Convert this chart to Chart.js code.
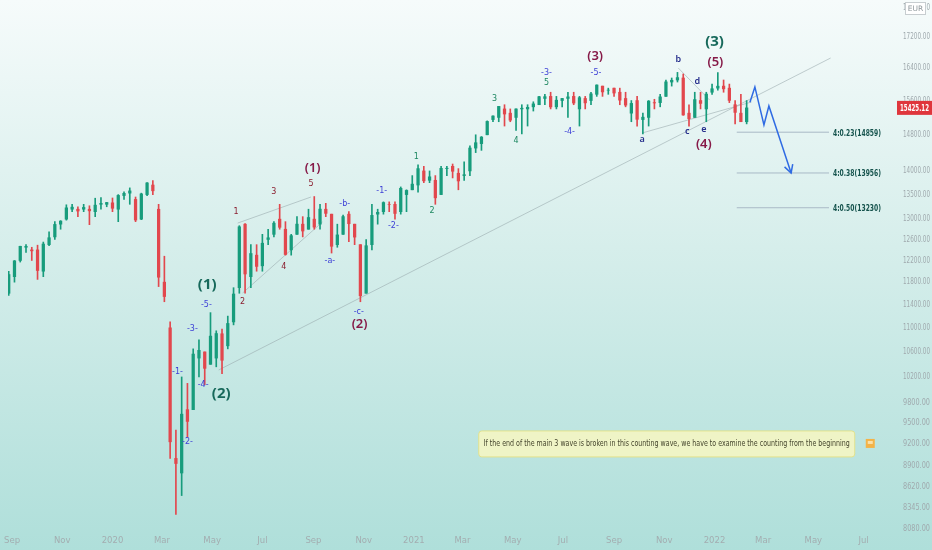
<!DOCTYPE html>
<html>
<head>
<meta charset="utf-8">
<script src="https://cdn.jsdelivr.net/npm/chart.js@4.4.1/dist/chart.umd.min.js"></script>
<style>
  html, body { margin: 0; padding: 0; background: #fff; }
  #wrap { width: 932px; height: 550px; }
</style>
</head>
<body>
<div id="wrap"><canvas id="chart" width="932" height="550"></canvas></div>
<script>
// weekly candles, x = days after 1 Sep 2019 (first candle mid-week 28 Aug 2019)
const firstDay = -4;
const opens = [
  11600,11900,12200,12450,12400,12400,12000,12500,12650,12900,
  13000,13200,13200,13200,13200,13150,13300,13300,13330,13200,
  13480,13530,13400,13000,13500,13700,13200,11800,11000,9000,
  8800,9700,9700,10500,10600,10400,10500,10900,10700,11100,
  11700,12900,11900,12300,12100,12600,12700,13000,12800,12400,
  12700,12900,12800,13000,12900,13200,13100,12500,12700,13100,
  12900,12500,11600,12500,13100,13150,13300,13300,13150,13500,
  13600,13700,14000,13800,13800,13500,14050,14100,13950,13900,
  14000,14500,14600,14800,15150,15200,15400,15300,15200,15400,
  15400,15450,15500,15650,15700,15450,15600,15650,15700,15400,
  15650,15600,15750,15950,15850,15900,15800,15650,15300,15600,
  15150,15200,15550,15550,15700,16050,16100,16150,15300,15200,
  15600,15400,15800,15900,15950,15900,15500,15300,15100
];
const highs = [
  12000,12200,12470,12500,12450,12490,12550,12750,12950,12970,
  13290,13300,13250,13300,13270,13425,13440,13340,13430,13500,
  13560,13640,13450,13530,13750,13795,13300,12280,11100,9400,
  10200,10100,10650,10800,10600,11260,10950,10980,11200,11700,
  12870,12913,12500,12500,12700,12800,12950,13300,12950,12700,
  13050,13050,13200,13460,13300,13320,13100,12900,13080,13150,
  12900,12500,12600,13300,13200,13350,13350,13350,13660,13600,
  13900,14130,14100,14000,13900,14100,14100,14150,14050,14200,
  14550,14800,14760,15120,15240,15460,15500,15400,15400,15500,
  15500,15570,15700,15750,15800,15700,15650,15800,15800,15700,
  15700,15800,15980,15950,15900,15900,15900,15800,15600,15700,
  15300,15600,15630,15750,16100,16150,16290,16250,15500,15800,
  15800,15800,16000,16285,16100,16000,15600,15750,15600
];
const lows = [
  11560,11800,12170,12350,12200,11850,11900,12480,12600,12800,
  12980,13150,13050,13150,12890,13050,13200,13250,13150,12950,
  13400,13300,12950,12990,13480,13500,11720,11450,9000,8256,
  8500,9300,9700,10200,10080,10400,10360,10250,10650,11050,
  11600,11600,11700,12000,12000,12500,12650,12800,12300,12300,
  12700,12650,12800,12800,12800,13050,12340,12450,12700,12560,
  12500,11450,11600,12400,12900,13100,13150,13000,13100,13150,
  13600,13550,13750,13750,13300,13500,13900,13850,13600,13800,
  13900,14400,14450,14800,15100,15100,15000,15100,14900,14820,
  15000,15350,15500,15500,15400,15400,15450,15200,15500,15000,
  15400,15500,15700,15700,15750,15700,15500,15450,15100,15000,
  14820,15000,15400,15450,15700,15950,16050,15250,15000,15200,
  15400,15100,15750,15850,15800,15550,15050,15100,15050
];
const closes = [
  11939,12192,12469,12468,12381,12013,12512,12634,12895,12961,
  13228,13242,13163,13236,13167,13283,13319,13337,13219,13483,
  13526,13577,12982,13514,13745,13579,11890,11542,9232,8929,
  9633,9526,10565,10626,10336,10861,10904,10465,11074,11587,
  12848,11949,12331,12089,12528,12633,12920,12838,12313,12674,
  12901,12765,13033,12842,13202,13116,12469,12689,13051,12909,
  12646,11556,12480,13076,13137,13336,13299,13114,13631,13587,
  13719,14050,13788,13874,13433,14056,14050,13993,13786,13920,
  14502,14621,14748,15107,15234,15460,15280,15136,15400,15417,
  15437,15520,15693,15693,15448,15608,15650,15688,15540,15669,
  15544,15761,15977,15808,15852,15781,15609,15490,15532,15156,
  15206,15587,15543,15688,16054,16094,16160,15257,15170,15623,
  15531,15756,15885,15948,15883,15603,15318,15100,15425
];
const lastPrice = 15425.12;

const xTickDays = [0,61,122,182,243,304,366,427,488,547,608,669,731,792,853,912,973,1034];
const xTickLabels = ['Sep','Nov','2020','Mar','May','Jul','Sep','Nov','2021','Mar','May','Jul','Sep','Nov','2022','Mar','May','Jul'];
const yTicks = [18000,17200,16400,15600,14800,14000,13500,13000,12600,12200,11800,11400,11000,10600,10200,9800,9500,9200,8900,8620,8345,8080];

// wave labels: [day, price, text, group]
const waveLabels = [
  [237,11748,'(1)','major'], [254,9937,'(2)','major'], [853,17068,'(3)','major'],
  [365,14063,'(1)','inter'], [422,11065,'(2)','inter'], [708,16705,'(3)','inter'],
  [854,16552,'(5)','inter'], [840,14592,'(4)','inter'],
  [201,10278,'-1-','minute'], [213,9230,'-2-','minute'], [219,10980,'-3-','minute'],
  [232,10075,'-4-','minute'], [236,11393,'-5-','minute'], [386,12190,'-a-','minute'],
  [404,13306,'-b-','minute'], [421,11271,'-c-','minute'], [449,13575,'-1-','minute'],
  [463,12864,'-2-','minute'], [649,16274,'-3-','minute'], [677,14863,'-4-','minute'],
  [709,16274,'-5-','minute'],
  [272,13144,'1','red'], [280,11446,'2','red'], [318,13554,'3','red'],
  [330,12078,'4','red'], [363,13721,'5','red'],
  [491,14303,'1','green'], [510,13164,'2','green'], [586,15637,'3','green'],
  [612,14659,'4','green'], [649,16026,'5','green'],
  [765,14704,'a','navy'], [809,16628,'b','navy'], [820,14886,'c','navy'],
  [832,16075,'d','navy'], [840,14932,'e','navy']
];

const fibLevels = [14859, 13956, 13230];
const fibNames = ['4:0.23(14859)', '4:0.38(13956)', '4:0.50(13230)'];
const fibFrom = 880, fibTo = 992;

const trendLines = [
  [[251,10310],[994,16654]],
  [[274,12922],[363,13450]],
  [[280,11605],[377,12944]],
  [[765,14840],[898,15565]],
  [[809,16400],[847,15612]]
];
const projection = [[896,15560],[902,15930],[913,15025],[919,15470],[946,13956]];

const noteText = 'If the end of the main 3 wave is broken in this counting wave, we have to examine the counting from the beginning';
const noteAt = [795, 9202];

const UP = '#179c7c', DOWN = '#e2474d';
const labelStyle = {
  major:  { color: '#17695b', font: 'bold 15px "Noto Sans"' },
  inter:  { color: '#861a48', font: '600 13px "Noto Sans"' },
  minute: { color: '#3c3fd6', font: '8px "DejaVu Sans"' },
  red:    { color: '#8a1d2e', font: '8px "DejaVu Sans"' },
  green:  { color: '#1c8760', font: '8px "DejaVu Sans"' },
  navy:   { color: '#262f8c', font: '600 9px "Noto Sans"' }
};

const days = opens.map((_, i) => firstDay + 7 * i);
const upDown = i => closes[i] >= opens[i] ? UP : DOWN;

const lineSets = trendLines.map(seg => ({
  type: 'line',
  data: seg.map(p => ({ x: p[0], y: p[1] })),
  borderColor: 'rgba(150,165,170,0.55)',
  borderWidth: 1,
  pointRadius: 0,
  order: 5
}));
const fibSets = fibLevels.map(v => ({
  type: 'line',
  data: [{ x: fibFrom, y: v }, { x: fibTo, y: v }],
  borderColor: '#a9b9c6',
  borderWidth: 1,
  pointRadius: 0,
  order: 5
}));

function fitText(ctx, text, x, y, maxW) {
  const w = ctx.measureText(text).width;
  const sx = w > maxW ? maxW / w : 1;
  ctx.save();
  ctx.translate(x, y);
  ctx.scale(sx, 1);
  ctx.fillText(text, 0, 0);
  ctx.restore();
  return w * sx;
}

const bgPlugin = {
  id: 'bg',
  beforeDraw(chart) {
    const ctx = chart.ctx;
    const g = ctx.createLinearGradient(0, 0, 0, chart.height);
    g.addColorStop(0, '#f6fbfb');
    g.addColorStop(0.45, '#d6eeeb');
    g.addColorStop(1, '#afdfda');
    ctx.save();
    ctx.fillStyle = g;
    ctx.fillRect(0, 0, chart.width, chart.height);
    ctx.restore();
  }
};

const notesPlugin = {
  id: 'notes',
  afterDraw(chart) {
    const ctx = chart.ctx;
    const xs = chart.scales.x, ys = chart.scales.y;
    ctx.save();

    // price axis labels (condensed to fit the narrow axis)
    ctx.textAlign = 'left';
    ctx.textBaseline = 'middle';
    ctx.fillStyle = '#a0aaae';
    ctx.font = '8.5px "DejaVu Sans"';
    yTicks.forEach(v => {
      fitText(ctx, v.toFixed(2), chart.chartArea.right + 3, ys.getPixelForValue(v), 27);
    });

    ctx.textAlign = 'center';
    waveLabels.forEach(l => {
      const st = labelStyle[l[3]];
      ctx.fillStyle = st.color;
      ctx.font = st.font;
      ctx.fillText(l[2], xs.getPixelForValue(l[0]), ys.getPixelForValue(l[1]));
    });

    // fib level names
    ctx.textAlign = 'left';
    ctx.font = 'bold 9.5px "DejaVu Sans"';
    ctx.fillStyle = '#15534d';
    fibLevels.forEach((v, i) => {
      fitText(ctx, fibNames[i], xs.getPixelForValue(fibTo) + 4, ys.getPixelForValue(v) + 1, 48);
    });

    // projection arrow head
    const n = projection.length;
    const ex = xs.getPixelForValue(projection[n - 1][0]), ey = ys.getPixelForValue(projection[n - 1][1]);
    const px = xs.getPixelForValue(projection[n - 2][0]), py = ys.getPixelForValue(projection[n - 2][1]);
    const a = Math.atan2(ey - py, ex - px);
    ctx.strokeStyle = '#2f6be3';
    ctx.lineWidth = 1.5;
    ctx.beginPath();
    ctx.moveTo(ex - 9 * Math.cos(a - 0.5), ey - 9 * Math.sin(a - 0.5));
    ctx.lineTo(ex, ey);
    ctx.lineTo(ex - 9 * Math.cos(a + 0.5), ey - 9 * Math.sin(a + 0.5));
    ctx.stroke();

    // note box
    const cx = xs.getPixelForValue(noteAt[0]), cy = ys.getPixelForValue(noteAt[1]);
    const bw = 376, bh = 26;
    ctx.fillStyle = '#eff4c6';
    ctx.strokeStyle = '#e2e28c';
    ctx.lineWidth = 1;
    ctx.beginPath();
    ctx.roundRect(cx - bw / 2, cy - bh / 2, bw, bh, 3);
    ctx.fill();
    ctx.stroke();
    ctx.fillStyle = '#45452d';
    ctx.font = '9.5px "DejaVu Sans"';
    ctx.textBaseline = 'middle';
    fitText(ctx, noteText, cx - bw / 2 + 5, cy, bw - 10);
    ctx.fillStyle = '#f4b347';
    ctx.fillRect(cx + bw / 2 + 11, cy - 5, 9, 9);
    ctx.fillStyle = '#fbe0a8';
    ctx.fillRect(cx + bw / 2 + 13, cy - 3, 5, 3);

    // last price badge
    const ly = ys.getPixelForValue(lastPrice);
    ctx.fillStyle = '#df363c';
    ctx.fillRect(chart.chartArea.right - 3, ly - 7, 35, 14);
    ctx.fillStyle = '#ffffff';
    ctx.font = 'bold 8.5px "DejaVu Sans"';
    fitText(ctx, lastPrice.toFixed(2), chart.chartArea.right, ly + 0.5, 29);

    // currency badge
    ctx.fillStyle = '#ffffff';
    ctx.fillRect(905, 2, 20, 12);
    ctx.strokeStyle = '#c7cdd0';
    ctx.strokeRect(905.5, 2.5, 20, 12);
    ctx.fillStyle = '#8e979b';
    ctx.font = '7.5px "DejaVu Sans"';
    ctx.textAlign = 'center';
    ctx.fillText('EUR', 915.5, 9);
    ctx.restore();
  }
};

new Chart(document.getElementById('chart'), {
  type: 'bar',
  data: {
    datasets: [
      {
        data: days.map((d, i) => ({ x: d, y: [lows[i], highs[i]] })),
        backgroundColor: c => upDown(c.dataIndex),
        barThickness: 1,
        grouped: false,
        order: 2
      },
      {
        data: days.map((d, i) => ({
          x: d,
          y: opens[i] === closes[i] ? [opens[i], opens[i] + 8] : [opens[i], closes[i]]
        })),
        backgroundColor: c => upDown(c.dataIndex),
        barThickness: 2.6,
        grouped: false,
        order: 1
      },
      ...lineSets,
      ...fibSets,
      {
        type: 'line',
        data: projection.map(p => ({ x: p[0], y: p[1] })),
        borderColor: '#2f6be3',
        borderWidth: 1.5,
        pointRadius: 0,
        order: 0
      }
    ]
  },
  options: {
    responsive: false,
    animation: false,
    layout: { padding: 0 },
    plugins: { legend: { display: false }, tooltip: { enabled: false } },
    scales: {
      x: {
        type: 'linear',
        min: -4.8,
        max: 1078.2,
        offset: false,
        grid: { display: false, drawTicks: false },
        border: { display: false },
        afterBuildTicks: s => { s.ticks = xTickDays.map(v => ({ value: v })); },
        afterFit: s => { s.height = 18; },
        ticks: {
          autoSkip: false,
          maxRotation: 0,
          padding: 4,
          color: '#a3adb0',
          font: { family: 'DejaVu Sans', size: 8.5 },
          callback: v => xTickLabels[xTickDays.indexOf(v)]
        }
      },
      y: {
        type: 'logarithmic',
        position: 'right',
        min: 8037,
        max: 18207,
        grid: { display: false, drawTicks: false },
        border: { display: false },
        afterBuildTicks: s => { s.ticks = yTicks.map(v => ({ value: v })); },
        afterFit: s => { s.width = 32; },
        ticks: { display: false }
      }
    }
  },
  plugins: [bgPlugin, notesPlugin]
});
</script>
</body>
</html>
